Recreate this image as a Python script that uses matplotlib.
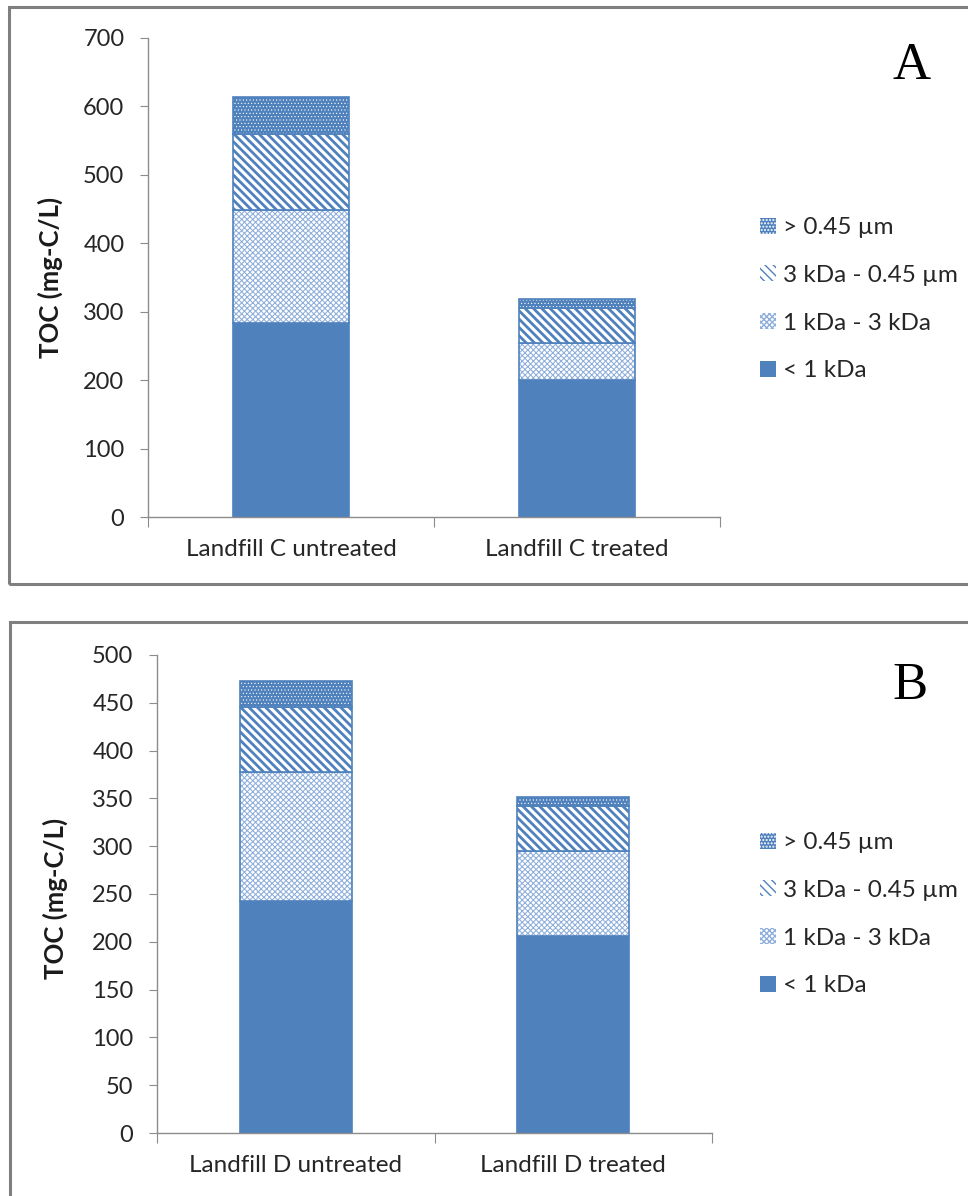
import matplotlib
matplotlib.use("Agg")
import matplotlib.pyplot as plt
from matplotlib.patches import Patch, Rectangle

plt.rcParams['font.family'] = ['Lato', 'DejaVu Sans']

# fraction labels, bottom to top of each stack
fractions = ['< 1 kDa', '1 kDa - 3 kDa', '3 kDa - 0.45 µm', '> 0.45 µm']

# panel A: landfill C
cats_c = ['Landfill C untreated', 'Landfill C treated']
c_lt1k = [284, 200]
c_1to3k = [165, 54]
c_3kto045 = [111, 52]
c_gt045 = [54, 13]

# panel B: landfill D
cats_d = ['Landfill D untreated', 'Landfill D treated']
d_lt1k = [243, 206]
d_1to3k = [135, 89]
d_3kto045 = [68, 47]
d_gt045 = [27, 9]

BLUE = '#4f81bd'
W, H = 968, 1196

# (face, hatch colour, hatch, hatch lw)
styles = [
    (BLUE, BLUE, None, 1.0),
    ('white', '#8eaedb', 'xxxxxx', 0.75),
    ('white', BLUE, '\\' * 4, 2.0),
    (BLUE, 'white', '.' * 5, 0.4),
]


def px_axes(fig, left, right, top, bottom):
    return fig.add_axes([left / W, 1 - bottom / H, (right - left) / W, (bottom - top) / H])


def stacked(ax, cats, series, ymax, ystep):
    x = list(range(len(cats)))
    base = [0] * len(cats)
    handles = []
    for vals, (fc, hc, hatch, hlw), lab in zip(series, styles, fractions):
        with plt.rc_context({'hatch.linewidth': hlw}):
            bars = ax.bar(x, vals, 0.405, bottom=base, color=fc, edgecolor=hc,
                          hatch=hatch, linewidth=0)
            for b in bars:
                if hasattr(b, 'set_hatch_linewidth'):
                    b.set_hatch_linewidth(hlw)
            ax.bar(x, vals, 0.405, bottom=base, facecolor='none',
                   edgecolor=BLUE, linewidth=1.2)
            h = Patch(facecolor=fc, edgecolor=hc, hatch=hatch, linewidth=0)
            if hasattr(h, 'set_hatch_linewidth'):
                h.set_hatch_linewidth(hlw)
        handles.append(h)
        base = [b0 + v for b0, v in zip(base, vals)]

    ax.set_xlim(-0.5, len(cats) - 0.5)
    ax.set_ylim(0, ymax)
    ax.set_yticks(range(0, ymax + 1, ystep))
    ax.set_xticks([i - 0.5 for i in range(len(cats) + 1)])
    ax.set_xticklabels([])
    ax.set_xticks(x, minor=True)
    ax.set_xticklabels(cats, minor=True)
    ax.tick_params(axis='x', which='major', direction='out', length=7, color='#8c8c8c')
    ax.tick_params(axis='x', which='minor', length=0, pad=16, labelsize=17.5, labelcolor='#262626')
    ax.tick_params(axis='y', direction='out', length=6, color='#8c8c8c', pad=11,
                   labelsize=17, labelcolor='#262626')
    for s in ['top', 'right']:
        ax.spines[s].set_visible(False)
    for s in ['left', 'bottom']:
        ax.spines[s].set_color('#8c8c8c')
        ax.spines[s].set_linewidth(1.0)
    ax.set_ylabel('TOC (mg-C/L)', fontsize=18.5, fontweight='bold', color='#1a1a1a')
    return handles[::-1]


def add_legend(fig, handles, top):
    fig.legend(handles, fractions[::-1], loc='upper left', bbox_to_anchor=(748 / W, 1 - top / H),
               frameon=False, fontsize=17.5, handlelength=0.65, handleheight=0.65,
               handletextpad=0.3, labelspacing=1.1, borderpad=0, labelcolor='#262626')


fig = plt.figure(figsize=(W / 100, H / 100), dpi=100)

# panel frames
fig.patches.append(Rectangle((9 / W, 1 - 584 / H), 1.0, (584 - 7) / H,
                             transform=fig.transFigure, fill=False,
                             edgecolor='#7f7f7f', linewidth=2.2))
fig.patches.append(Rectangle((10 / W, -0.05), 1.0, 0.05 + (1196 - 622) / H,
                             transform=fig.transFigure, fill=False,
                             edgecolor='#7f7f7f', linewidth=2.2))

ax1 = px_axes(fig, 148, 720, 38, 517)
h1 = stacked(ax1, cats_c, [c_lt1k, c_1to3k, c_3kto045, c_gt045], 700, 100)
ax1.yaxis.set_label_coords(-0.149, 0.5)
add_legend(fig, h1, 205)
fig.text(912 / W, 1 - 66 / H, 'A', fontsize=38, family='Liberation Serif',
         ha='center', va='center')

ax2 = px_axes(fig, 157, 712, 655, 1133)
h2 = stacked(ax2, cats_d, [d_lt1k, d_1to3k, d_3kto045, d_gt045], 500, 50)
ax2.yaxis.set_label_coords(-0.16, 0.49)
add_legend(fig, h2, 820)
fig.text(910 / W, 1 - 686 / H, 'B', fontsize=38, family='Liberation Serif',
         ha='center', va='center')

fig.savefig('out.png', dpi=100)
